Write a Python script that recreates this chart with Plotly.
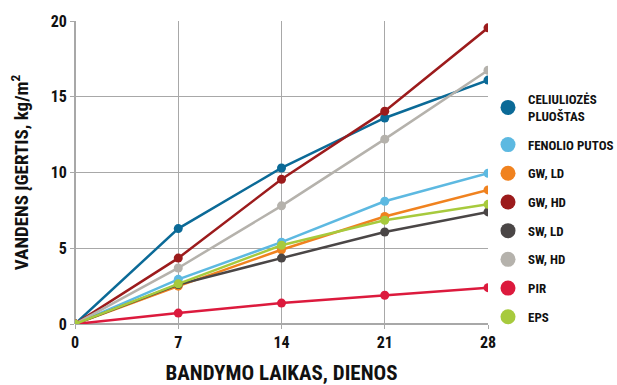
import plotly.graph_objects as go

days = [0, 7, 14, 21, 28]
series_names = [
    "CELIULIOZĖS<br>PLUOŠTAS",
    "FENOLIO PUTOS",
    "GW, LD",
    "GW, HD",
    "SW, LD",
    "SW, HD",
    "PIR",
    "EPS",
]
celiulioze = [0, 6.3, 10.3, 13.6, 16.1]
fenolio = [0, 2.95, 5.4, 8.1, 9.95]
gw_ld = [0, 2.5, 4.9, 7.1, 8.85]
gw_hd = [0, 4.35, 9.55, 14.05, 19.55]
sw_ld = [0, 2.6, 4.35, 6.07, 7.4]
sw_hd = [0, 3.7, 7.8, 12.2, 16.75]
pir = [0, 0.72, 1.38, 1.9, 2.4]
eps = [0, 2.65, 5.2, 6.85, 7.9]
series_values = [celiulioze, fenolio, gw_ld, gw_hd, sw_ld, sw_hd, pir, eps]
colors = ["#0b6a97", "#5db9e1", "#f0821f", "#9c1b1c", "#4a4646",
          "#b5b2ac", "#dc1a3d", "#a7ca3d"]

x_ticks = [0, 7, 14, 21, 28]
y_ticks = [0, 5, 10, 15, 20]

FONT = ("Noto Sans ExtraCondensed, Noto Sans Condensed, Roboto Condensed, "
        "DejaVu Sans Condensed, sans-serif")

fig = go.Figure()

# data lines
for name, vals, col in zip(series_names, series_values, colors):
    fig.add_trace(go.Scatter(
        x=days, y=vals, mode="lines+markers", name=name,
        line=dict(color=col, width=2.5),
        marker=dict(color=col, size=9),
        showlegend=False, hoverinfo="x+y",
    ))

# marker-only legend entries, one group each so the group gap spaces them
for i, (name, col) in enumerate(zip(series_names, colors)):
    fig.add_trace(go.Scatter(
        x=[None], y=[None], mode="markers", name=name,
        marker=dict(color=col, size=15),
        legendgroup=f"g{i}", showlegend=True,
    ))

fig.update_layout(
    width=617, height=385,
    margin=dict(l=75, r=129, t=21, b=61, autoexpand=False),
    paper_bgcolor="white", plot_bgcolor="white",
    font=dict(family=FONT, color="#111111", size=16, weight="bold"),
    legend=dict(
        x=1.0, xanchor="left", y=0.792, yanchor="top",
        font=dict(family=FONT, size=13, color="#111111", weight="bold"),
        itemwidth=30, itemsizing="trace",
        tracegroupgap=8.8, bgcolor="rgba(0,0,0,0)",
    ),
)
fig.update_xaxes(
    range=[0, 28], tickvals=x_ticks, ticktext=[str(v) for v in x_ticks],
    showgrid=True, gridcolor="#a8a8a8", gridwidth=1,
    showline=False, zeroline=True, zerolinecolor="#a8a8a8", zerolinewidth=1.5,
    ticks="outside", ticklen=4, tickcolor="#a8a8a8",
    tickfont=dict(family=FONT, size=16, color="#111111", weight="bold"),
    title=dict(text="BANDYMO LAIKAS, DIENOS",
               font=dict(family=FONT, size=21, color="#111111", weight="bold"),
               standoff=15),
)
fig.update_yaxes(
    range=[0, 20], tickvals=y_ticks, ticktext=[str(v) for v in y_ticks],
    showgrid=True, gridcolor="#a8a8a8", gridwidth=1,
    showline=False, zeroline=True, zerolinecolor="#a8a8a8", zerolinewidth=1.5,
    ticks="outside", ticklen=4, tickcolor="#a8a8a8",
    tickfont=dict(family=FONT, size=16, color="#111111", weight="bold"),
    title=dict(text="VANDENS ĮGERTIS, kg/m<sup>2</sup>",
               font=dict(family=FONT, size=19, color="#111111", weight="bold"),
               standoff=16),
)

fig.write_html("out.html")
